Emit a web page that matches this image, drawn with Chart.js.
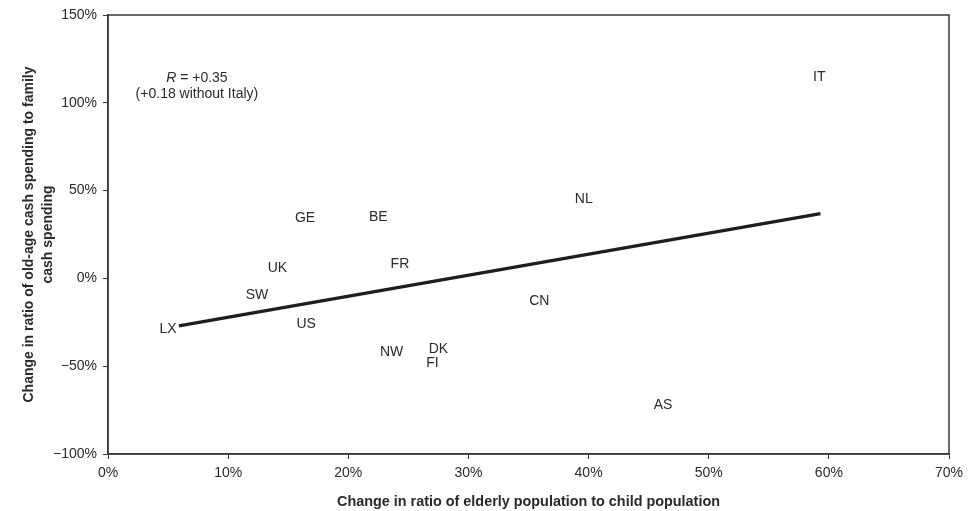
<!DOCTYPE html>
<html>
<head>
<meta charset="utf-8">
<script src="https://cdn.jsdelivr.net/npm/chart.js@4"></script>
<style>
  html, body { margin: 0; padding: 0; background: #ffffff; }
  #wrap { width: 976px; height: 511px; }
</style>
</head>
<body>
<div id="wrap"><canvas id="c" width="976" height="511"></canvas></div>
<script>
// Country codes and their values (percent change)
const countries = ['IT', 'NL', 'CN', 'AS', 'GE', 'BE', 'FR', 'UK', 'SW', 'US', 'LX', 'NW', 'DK', 'FI'];
const elderlyToChild = [59.2, 39.6, 35.9, 46.2, 16.4, 22.5, 24.3, 14.1, 12.4, 16.5, 5.0, 23.6, 27.5, 27.0];
const oldAgeToFamily = [114.5, 45.3, -12.9, -71.9, 34.4, 35.0, 8.3, 5.8, -9.8, -26.0, -29.0, -41.8, -40.5, -48.1];

// Fitted line end points
const fitX = [5.9, 59.3];
const fitY = [-27.0, 36.9];

// Axis ticks
const xTicks = [0, 10, 20, 30, 40, 50, 60, 70];
const yTicks = [-100, -50, 0, 50, 100, 150];

// Correlation note
const noteLines = ['R = +0.35', '(+0.18 without Italy)'];
const notePos = [7.4, 114.3];

const FONT = "'Liberation Sans', Arial, Helvetica, sans-serif";
const INK = '#2a2a2a';

const pct = v => (v < 0 ? '\u2212' + Math.abs(v) : String(v)) + '%';

const frame = {
  id: 'frame',
  afterDraw(chart) {
    const { ctx, chartArea: a } = chart;
    ctx.save();
    ctx.strokeStyle = '#3a3a3a';
    ctx.lineWidth = 1.5;
    ctx.strokeRect(a.left, a.top, a.right - a.left, a.bottom - a.top);
    ctx.restore();
  }
};

const pointLabels = {
  id: 'pointLabels',
  afterDatasetsDraw(chart) {
    const { ctx } = chart;
    const meta = chart.getDatasetMeta(1);
    ctx.save();
    ctx.font = '14px ' + FONT;
    ctx.fillStyle = INK;
    ctx.textAlign = 'center';
    ctx.textBaseline = 'middle';
    meta.data.forEach((el, i) => {
      ctx.fillText(countries[i], el.x, el.y);
    });
    // correlation note
    const xs = chart.scales.x, ys = chart.scales.y;
    const cx = xs.getPixelForValue(notePos[0]);
    const cy = ys.getPixelForValue(notePos[1]);
    // first line: italic R followed by the rest
    const rest = noteLines[0].slice(1);
    ctx.font = 'italic 14px ' + FONT;
    const wR = ctx.measureText('R').width;
    ctx.font = '14px ' + FONT;
    const wRest = ctx.measureText(rest).width;
    const startX = cx - (wR + wRest) / 2;
    ctx.textAlign = 'left';
    ctx.font = 'italic 14px ' + FONT;
    ctx.fillText('R', startX, cy);
    ctx.font = '14px ' + FONT;
    ctx.fillText(rest, startX + wR, cy);
    ctx.textAlign = 'center';
    ctx.fillText(noteLines[1], cx, cy + 16);
    ctx.restore();
  }
};

new Chart(document.getElementById('c'), {
  type: 'scatter',
  data: {
    datasets: [
      {
        type: 'line',
        data: fitX.map((x, i) => ({ x, y: fitY[i] })),
        borderColor: '#1e1e1e',
        borderWidth: 3.4,
        pointRadius: 0,
        fill: false,
        tension: 0
      },
      {
        data: elderlyToChild.map((x, i) => ({ x, y: oldAgeToFamily[i] })),
        pointRadius: 0,
        pointHoverRadius: 0,
        showLine: false
      }
    ]
  },
  plugins: [frame, pointLabels],
  options: {
    responsive: false,
    animation: false,
    events: [],
    layout: { padding: { top: 15, right: 27, left: 0, bottom: 0 } },
    plugins: { legend: { display: false }, tooltip: { enabled: false } },
    scales: {
      x: {
        type: 'linear',
        min: 0, max: 70,
        afterBuildTicks: s => { s.ticks = xTicks.map(v => ({ value: v })); },
        afterFit: s => { s.height = 57; },
        ticks: {
          callback: v => pct(v),
          color: INK,
          font: { family: FONT, size: 14 },
          padding: 6,
          maxRotation: 0
        },
        grid: { drawOnChartArea: false, tickLength: 5, color: '#3a3a3a', lineWidth: 1 },
        border: { color: '#3a3a3a', width: 1.5 },
        title: {
          display: true,
          text: 'Change in ratio of elderly population to child population',
          color: INK,
          font: { family: FONT, size: 14.4, weight: 'bold' },
          padding: { top: 8, bottom: 0 }
        }
      },
      y: {
        type: 'linear',
        min: -100, max: 150,
        afterBuildTicks: s => { s.ticks = yTicks.map(v => ({ value: v })); },
        afterFit: s => { s.width = 108; },
        ticks: {
          callback: v => pct(v),
          color: INK,
          font: { family: FONT, size: 14 },
          padding: 6
        },
        grid: { drawOnChartArea: false, tickLength: 5, color: '#3a3a3a', lineWidth: 1 },
        border: { color: '#3a3a3a', width: 1.5 },
        title: {
          display: true,
          text: ['Change in ratio of old-age cash spending to family', 'cash spending'],
          color: INK,
          font: { family: FONT, size: 14, weight: 'bold', lineHeight: 1.35 },
          padding: { top: 20, bottom: 4 }
        }
      }
    }
  }
});
</script>
</body>
</html>
